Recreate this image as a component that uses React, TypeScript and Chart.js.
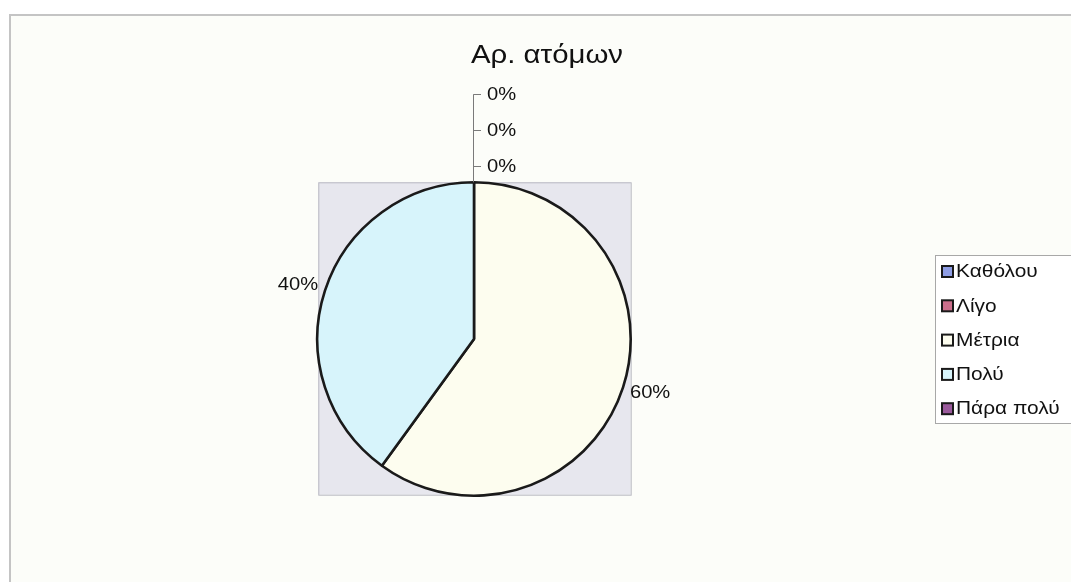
import React, { useEffect, useRef } from "react";
import { Chart, registerables } from "chart.js";

Chart.register(...registerables);

const chartTitle = "Αρ. ατόμων";
const categories = ["Καθόλου", "Λίγο", "Μέτρια", "Πολύ", "Πάρα πολύ"];
const counts = [0, 0, 3, 2, 0];
const sliceColors = ["#8e9de4", "#cc6f8c", "#fdfdef", "#d7f4fb", "#9a5a9c"];

const FONT = "'Liberation Sans', Arial, sans-serif";

function scaledText(
  ctx: CanvasRenderingContext2D,
  text: string,
  x: number,
  y: number,
  align: CanvasTextAlign,
  font: string,
  sx: number
) {
  ctx.save();
  ctx.translate(x, y);
  ctx.scale(sx, 1);
  ctx.font = font;
  ctx.textAlign = align;
  ctx.fillText(text, 0, 0);
  ctx.restore();
}

const pagePlugin = {
  id: "pagePlugin",
  beforeDraw(chart: any) {
    const { ctx, width, height } = chart;
    ctx.save();
    ctx.fillStyle = "#ffffff";
    ctx.fillRect(0, 0, width, height);
    // chart frame
    ctx.fillStyle = "#fcfdf9";
    ctx.fillRect(10, 15, width - 10, height - 15);
    ctx.strokeStyle = "#c4c4c4";
    ctx.lineWidth = 2;
    ctx.beginPath();
    ctx.moveTo(10, height);
    ctx.lineTo(10, 15);
    ctx.lineTo(width, 15);
    ctx.stroke();
    // plot area box
    const meta = chart.getDatasetMeta(0);
    const arc = meta.data[2];
    if (arc) {
      const { x, y, outerRadius } = arc.getProps(["x", "y", "outerRadius"], true);
      const left = x - outerRadius + 1;
      const top = y - outerRadius;
      const size = outerRadius * 2 - 1;
      ctx.fillStyle = "#e7e7ee";
      ctx.fillRect(left, top, size, size);
      ctx.strokeStyle = "#b9b9c2";
      ctx.lineWidth = 1;
      ctx.strokeRect(left + 0.5, top + 0.5, size, size);
    }
    ctx.restore();
  },
  afterDatasetsDraw(chart: any) {
    const { ctx } = chart;
    const meta = chart.getDatasetMeta(0);
    const data: number[] = chart.data.datasets[0].data;
    const total = data.reduce((a: number, b: number) => a + b, 0);
    const first = meta.data[0];
    const { x: cx, y: cy, outerRadius: R } = first.getProps(["x", "y", "outerRadius"], true);
    ctx.save();
    ctx.fillStyle = "#111111";
    ctx.textBaseline = "middle";
    const labelFont = `18px ${FONT}`;
    // non-zero labels
    data.forEach((v: number, i: number) => {
      if (v <= 0) return;
      const el = meta.data[i];
      const { startAngle, endAngle } = el.getProps(["startAngle", "endAngle"], true);
      const mid = (startAngle + endAngle) / 2;
      const c = Math.cos(mid);
      const s = Math.sin(mid);
      const pct = Math.round((v / total) * 100) + "%";
      const px = cx + c * (R + 2) + (c < 0 ? -5 : 5);
      const py = cy + s * (R + 18);
      scaledText(ctx, pct, px, py, c < 0 ? "right" : "left", labelFont, 1.12);
    });
    // zero labels stacked above the top
    const zeros = data.map((v: number, i: number) => i).filter((i: number) => data[i] === 0);
    if (zeros.length) {
      const topY = cy - R;
      const ys = zeros.map((_: number, k: number) => topY - 15 - k * 36);
      ctx.strokeStyle = "#7a7a7a";
      ctx.lineWidth = 1;
      ctx.beginPath();
      ctx.moveTo(cx - 0.5, topY);
      ctx.lineTo(cx - 0.5, ys[ys.length - 1] - 1);
      ys.forEach((yy: number) => {
        ctx.moveTo(cx - 0.5, Math.round(yy) - 0.5);
        ctx.lineTo(cx + 7, Math.round(yy) - 0.5);
      });
      ctx.stroke();
      zeros.forEach((i: number, k: number) => {
        const pct = Math.round((data[i] / (total || 1)) * 100) + "%";
        scaledText(ctx, pct, cx + 13, ys[k], "left", labelFont, 1.12);
      });
    }
    // title
    ctx.fillStyle = "#111111";
    ctx.textBaseline = "alphabetic";
    scaledText(ctx, chartTitle, 547, 63, "center", `26px ${FONT}`, 1.13);

    // legend
    const lx = 935;
    const ly = 255;
    ctx.fillStyle = "#ffffff";
    ctx.fillRect(lx, ly, chart.width - lx + 5, 168);
    ctx.strokeStyle = "#a8a8a8";
    ctx.lineWidth = 1;
    ctx.strokeRect(lx + 0.5, ly + 0.5, chart.width - lx + 5, 168);
    const labels: string[] = chart.data.labels;
    const colors: string[] = chart.data.datasets[0].backgroundColor;
    labels.forEach((lab: string, i: number) => {
      const yy = 271 + i * 34.3;
      ctx.fillStyle = colors[i];
      ctx.fillRect(942, yy - 5, 11, 11);
      ctx.strokeStyle = "#1a1a1a";
      ctx.lineWidth = 2;
      ctx.strokeRect(942, yy - 5, 11, 11);
      ctx.fillStyle = "#111111";
      ctx.textBaseline = "middle";
      scaledText(ctx, lab, 956, yy + 1, "left", `19px ${FONT}`, 1.1);
    });
    ctx.restore();
  },
};

export default function App() {
  const ref = useRef<HTMLCanvasElement | null>(null);
  useEffect(() => {
    document.body.style.margin = "0";
    if (!ref.current) return;
    const chart = new Chart(ref.current, {
      type: "pie",
      data: {
        labels: categories,
        datasets: [
          {
            data: counts,
            backgroundColor: sliceColors,
            borderColor: "#1a1a1a",
            borderWidth: 2.6,
          },
        ],
      },
      options: {
        animation: false,
        responsive: false,
        events: [],
        layout: { padding: { left: 316, right: 439, top: 181, bottom: 85 } },
        plugins: {
          legend: { display: false },
          tooltip: { enabled: false },
          title: { display: false },
        },
      },
      plugins: [pagePlugin],
    });
    return () => chart.destroy();
  }, []);
  return (
    <div style={{ position: "absolute", left: 0, top: 0, width: 1071, height: 582 }}>
      <canvas ref={ref} width={1071} height={582} style={{ width: 1071, height: 582, display: "block" }} />
    </div>
  );
}
